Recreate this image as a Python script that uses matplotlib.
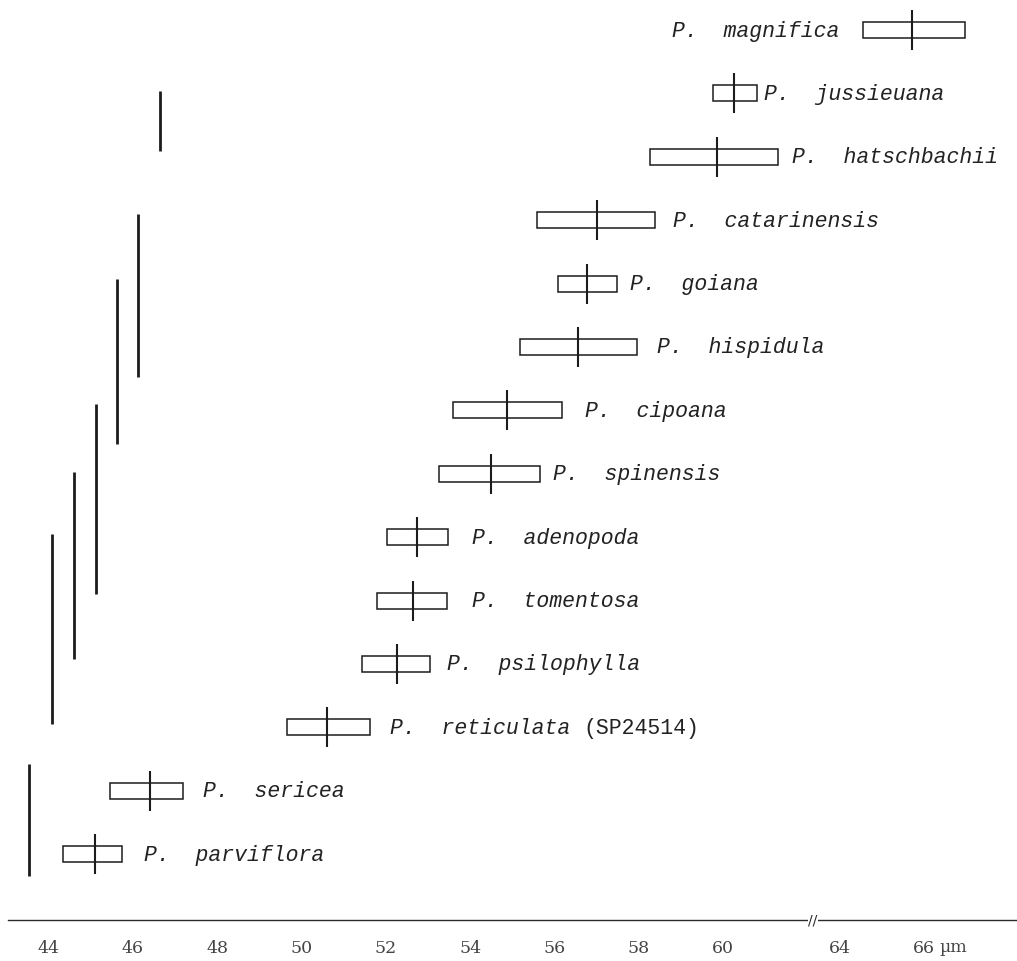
import numpy as np
import matplotlib
matplotlib.use("Agg")
import matplotlib.pyplot as plt
from matplotlib.patches import Rectangle

# Pollen grain size (µm): interval limits and mean per species, top to bottom
species = [
    "P. magnifica", "P. jussieuana", "P. hatschbachii", "P. catarinensis",
    "P. goiana", "P. hispidula", "P. cipoana", "P. spinensis",
    "P. adenopoda", "P. tomentosa", "P. psilophylla", "P. reticulata",
    "P. sericea", "P. parviflora",
]
box_lo = [64.54, 59.76, 58.27, 55.58, 56.08, 55.18, 53.59, 53.26,
          52.03, 51.79, 51.44, 49.66, 45.46, 44.34]
box_mean = [65.71, 60.26, 59.85, 57.00, 56.77, 56.56, 54.87, 54.49,
            52.74, 52.65, 52.27, 50.61, 46.40, 45.10]
box_hi = [66.96, 60.80, 61.30, 58.38, 57.48, 57.95, 56.17, 55.65,
          53.47, 53.45, 53.05, 51.63, 47.19, 45.74]
voucher = {11: "(SP24514)"}

# Species whose means do not differ (first and last row of each group)
group_first = [1, 3, 4, 6, 7, 8, 12]
group_last = [2, 5, 6, 9, 10, 11, 13]

tick_values = [44, 46, 48, 50, 52, 54, 56, 58, 60, 64, 66]
unit = "µm"

# ---- broken x axis: the stretch beyond the break is shifted left ----
BREAK_AT = 62.13
BREAK_GAP = 1.23


def fwd(v):
    v = np.asarray(v, dtype=float)
    return np.where(v <= BREAK_AT, v,
                    np.where(v >= BREAK_AT + BREAK_GAP, v - BREAK_GAP, BREAK_AT))


def inv(p):
    p = np.asarray(p, dtype=float)
    return np.where(p <= BREAK_AT, p, p + BREAK_GAP)


W, H = 1017, 962
fig = plt.figure(figsize=(W / 100, H / 100), dpi=100)
fig.patch.set_facecolor("white")

ax_left_px, axis_y_px = 8, 921
ax = fig.add_axes([ax_left_px / W, (H - axis_y_px) / H,
                   (W - ax_left_px) / W, axis_y_px / H])
ax.set_xscale("function", functions=(fwd, inv))
ax.set_xlim(43.04, 68.20)

row_px = 63.4
first_row_px = 31
ax.set_ylim((axis_y_px - first_row_px) / row_px, -first_row_px / row_px)

for s in ("top", "left", "right"):
    ax.spines[s].set_visible(False)
ax.spines["bottom"].set_color("#2a2a2a")
ax.spines["bottom"].set_linewidth(1.0)
ax.set_yticks([])
ax.set_xticks(tick_values)
ax.set_xticklabels([str(t) for t in tick_values])
ax.tick_params(axis="x", length=0, pad=14, labelsize=12.5,
               labelcolor="#444444")
for lab in ax.get_xticklabels():
    lab.set_fontfamily("DejaVu Serif")

ink = "#1c1c1c"
box_half = 8 / row_px
mean_half = 20 / row_px
label_gap_px = [23, 7, 14, 18, 13, 20, 23, 13, 24, 25, 17, 20, 20, 22]
label_font = dict(family="Liberation Mono", style="italic", size=15.5,
                  color="#222222")

fig.canvas.draw()
renderer = fig.canvas.get_renderer()

for i, name in enumerate(species):
    lo, mu, hi = box_lo[i], box_mean[i], box_hi[i]
    ax.add_patch(Rectangle((lo, i - box_half), hi - lo, 2 * box_half,
                           fill=False, edgecolor=ink, linewidth=1.1))
    ax.plot([mu, mu], [i - mean_half, i + mean_half], color=ink,
            linewidth=1.5, solid_capstyle="butt")
    shown = name.replace("P. ", "P.  ")
    if i == 0:
        ax.annotate(shown, (lo, i), xytext=(-label_gap_px[i], 0),
                    textcoords="offset pixels", ha="right", va="center",
                    **label_font)
    else:
        t = ax.annotate(shown, (hi, i), xytext=(label_gap_px[i], 0),
                        textcoords="offset pixels", ha="left", va="center",
                        **label_font)
        if i in voucher:
            bb = t.get_window_extent(renderer)
            x_end = ax.transData.inverted().transform((bb.x1, 0))[0]
            ax.annotate(voucher[i], (x_end, i), xytext=(13, 0),
                        textcoords="offset pixels", ha="left", va="center",
                        family="Liberation Mono", size=15.5, color="#222222")

# vertical bars marking the homogeneous groups
group_x_px = [160, 138, 117, 96, 74, 52, 29]
group_pad_top = [0.04, 0.10, 0.07, 0.10, 0.03, 0.05, 0.42]
group_pad_bottom = [-0.09, 0.47, 0.53, -0.10, -0.08, -0.06, 0.35]
ytrans = ax.get_yaxis_transform()
for k in range(len(group_first)):
    xa = (group_x_px[k] - ax_left_px) / (W - ax_left_px)
    y0 = group_first[k] - group_pad_top[k]
    y1 = group_last[k] + group_pad_bottom[k]
    ax.plot([xa, xa], [y0, y1], transform=ytrans, color=ink,
            linewidth=2.0, solid_capstyle="butt")

# break mark on the axis
ax.annotate("//", (BREAK_AT, 0), xycoords=ax.get_xaxis_transform(),
            ha="center", va="center", fontsize=10, color="#2a2a2a",
            family="DejaVu Sans", annotation_clip=False,
            bbox=dict(boxstyle="square,pad=0.05", fc="white", ec="none"))

# unit after the last tick label
ax.annotate(unit, (tick_values[-1], 0), xycoords=ax.get_xaxis_transform(),
            xytext=(29, -27), textcoords="offset pixels", ha="center",
            va="center", fontsize=12.5, color="#444444",
            family="DejaVu Serif", annotation_clip=False)

fig.savefig("out.png", dpi=100, facecolor="white")
